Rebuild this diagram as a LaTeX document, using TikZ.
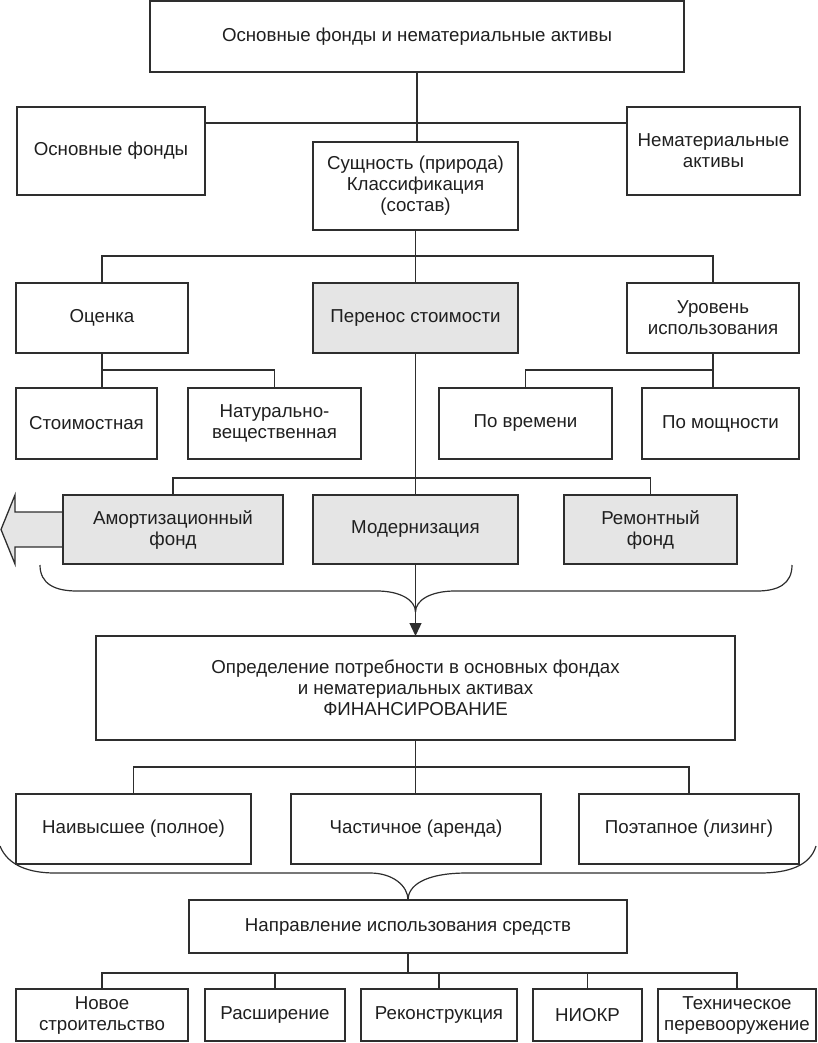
\documentclass[tikz,border=0pt]{standalone}
\usepackage{fontspec}
\setmainfont{Liberation Sans}
\usetikzlibrary{arrows.meta}
\newcommand\mkbox[7][box]{\node[#1, minimum width={(#5-#3)*1pt}, minimum height={(#6-#4)*1pt}] (#2) at ({(#3+#5)/2},{(#4+#6)/2}) {#7};}
\begin{document}
\begin{tikzpicture}[x=1pt,y=-1pt,
  box/.style={draw=black!82, line width=1.4pt, inner sep=0pt, outer sep=0pt, align=center, font=\fontsize{18.7}{21}\selectfont, text=black!88},
  gbox/.style={box, fill=black!10},
  conn/.style={draw=black!82, line width=1.3pt},
  bracel/.style={draw=black!82, line width=1.2pt}]
\useasboundingbox (0,0) rectangle (818,1043);
% boxes
\mkbox{top}{150}{1}{684}{72}{Основные фонды и нематериальные активы}
\mkbox{osf}{17}{107}{205}{195}{Основные фонды}
\mkbox{nma}{627}{107}{800}{195}{Нематериальные\\активы}
\mkbox{ess}{313}{142}{518}{230}{Сущность (природа)\\Классификация\\(состав)}
\mkbox{ocn}{16}{283}{188}{353}{Оценка}
\mkbox[gbox]{per}{313}{283}{518}{353}{Перенос стоимости}
\mkbox{urv}{627}{283}{799}{353}{Уровень\\использования}
\mkbox{stm}{16}{388}{157}{459}{Стоимостная}
\mkbox{nat}{188}{388}{361}{459}{Натурально-\\вещественная}
\mkbox{vrm}{439}{388}{612}{459}{По времени}
\mkbox{mos}{642}{388}{799}{459}{По мощности}
\draw[conn, fill=black!10] (63,512) -- (15,512) -- (15,495) -- (1,529.5) -- (15,564) -- (15,547) -- (63,547);
\mkbox[gbox]{amf}{63}{495}{283}{564}{Амортизационный\\фонд}
\mkbox[gbox]{mod}{313}{495}{518}{564}{Модернизация}
\mkbox[gbox]{rem}{564}{495}{737}{564}{Ремонтный\\фонд}
\mkbox{opr}{96}{636}{735}{740}{Определение потребности в основных фондах\\и нематериальных активах\\ФИНАНСИРОВАНИЕ}
\mkbox{nai}{16}{794}{251}{864}{Наивысшее (полное)}
\mkbox{cha}{291}{794}{541}{864}{Частичное (аренда)}
\mkbox{poe}{579}{794}{799}{864}{Поэтапное (лизинг)}
\mkbox{nap}{189}{900}{627}{953}{Направление использования средств}
\mkbox{nov}{16}{989}{188}{1041}{Новое\\строительство}
\mkbox{ras}{205}{989}{345}{1041}{Расширение}
\mkbox{rek}{361}{989}{517}{1041}{Реконструкция}
\mkbox{nio}{533}{989}{642}{1041}{НИОКР}
\mkbox{teh}{658}{989}{816}{1041}{Техническое\\перевооружение}
% junction levels
\coordinate (j1) at (416,123);
\coordinate (j2) at (416,256);
\coordinate (j3) at (0,370);
\coordinate (j4) at (0,478);
\coordinate (j5) at (0,767);
\coordinate (j6) at (0,973);
% connectors
\draw[conn] (top.south) -- (top.south |- ess.north);
\draw[conn] (osf.east |- j1) -- (nma.west |- j1);
\draw[conn] (ess.south) -- (per.north);
\draw[conn] (ocn.north) -- (ocn.north |- j2) -- (urv.north |- j2) -- (urv.north);
\draw[conn] (ocn.south) -- (ocn.south |- stm.north);
\draw[conn] (ocn.south |- j3) -| (nat.north);
\draw[conn] (urv.south) -- (urv.south |- mos.north);
\draw[conn] (urv.south |- j3) -| (vrm.north);
\draw[conn] (per.south) -- (mod.north);
\draw[conn] (amf.north) -- (amf.north |- j4) -- (rem.north |- j4) -- (rem.north);
\draw[conn, -{Triangle[length=13pt,width=12pt]}] (mod.south) -- (mod.south |- opr.north);
% brace 1
\draw[bracel] (40,565) .. controls (40,584) and (55,591) .. (77,591) -- (377,591) .. controls (400,591) and (415.5,600) .. (415.5,612);
\draw[bracel] (792,565) .. controls (792,584) and (778,591) .. (757,591) -- (455,591) .. controls (431,591) and (415.5,600) .. (415.5,612);
% financing
\draw[conn] (opr.south) -- (opr.south |- cha.north);
\draw[conn] (nai.north) -- (nai.north |- j5) -- (poe.north |- j5) -- (poe.north);
% brace 2
\draw[bracel] (0,846) .. controls (8,866) and (30,873) .. (55,873) -- (370,873) .. controls (393,873) and (408,886) .. (408,900);
\draw[bracel] (816,846) .. controls (810,866) and (788,873) .. (760,873) -- (467,873) .. controls (424,873) and (408,886) .. (408,900);
% directions
\draw[conn] (nap.south) -- (nap.south |- j6);
\draw[conn] (nov.north) -- (nov.north |- j6) -- (teh.north |- j6) -- (teh.north);
\draw[conn] (ras.north) -- (ras.north |- j6);
\draw[conn] (rek.north) -- (rek.north |- j6);
\draw[conn] (nio.north) -- (nio.north |- j6);
\end{tikzpicture}
\end{document}
